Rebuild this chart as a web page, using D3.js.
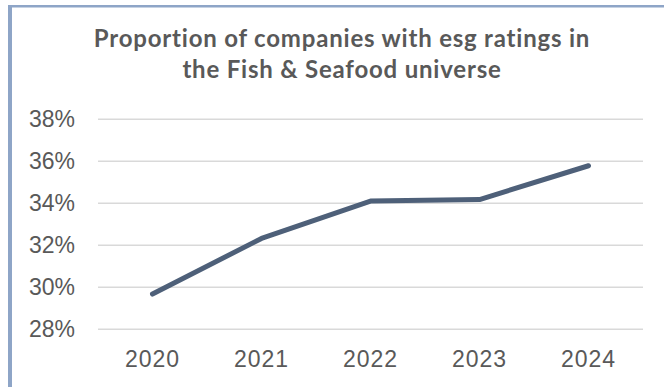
<!DOCTYPE html>
<html>
<head>
<meta charset="utf-8">
<script src="https://cdn.jsdelivr.net/npm/d3@7"></script>
<style>
  body { margin: 0; background: #fff; }
  svg { display: block; font-family: Lato, 'Noto Sans', sans-serif; }
</style>
</head>
<body>
<script>
// data
const years = ['2020', '2021', '2022', '2023', '2024'];
const shares = [29.65, 32.3, 34.08, 34.15, 35.76];
const yTicks = [28, 30, 32, 34, 36, 38];
const titleLines = ['Proportion of companies with esg ratings in', 'the Fish & Seafood universe'];

const svgWid = 664;
const svgHt = 387;
const margin = {top: 118.7, right: 21, bottom: 58.3, left: 98};
const svg = d3.select('body').append('svg').attr('width', svgWid).attr('height', svgHt);

const innerW = svgWid - margin.left - margin.right;
const innerH = svgHt - margin.top - margin.bottom;

const data = years.map((y, i) => ({year: y, share: shares[i]}));

// frame (blue edge on top and left)
svg.append('rect').attr('x', 8).attr('y', 5).attr('width', svgWid - 8).attr('height', 2.5).attr('fill', '#8ea5c7');
svg.append('rect').attr('x', 8).attr('y', 5).attr('width', 4).attr('height', svgHt - 5).attr('fill', '#8ea5c7');

// title
svg.append('text').attr('text-anchor', 'middle').attr('fill', '#595959')
  .attr('font-size', '24px').attr('font-weight', 'bold').attr('letter-spacing', '0.8px')
  .selectAll('tspan').data(titleLines).enter().append('tspan')
  .attr('x', 342).attr('y', (d, i) => 47 + i * 31).text(d => d);

const xScale = d3.scaleBand().domain(years).range([0, innerW]);
const yScale = d3.scaleLinear().domain([28, 38]).range([innerH, 0]);

const g = svg.append('g').attr('transform', `translate(${margin.left},${margin.top})`);

// y axis with grid
const yAxis = d3.axisLeft(yScale).tickValues(yTicks).tickSize(-innerW).tickPadding(23).tickFormat(d => d + '%');
const yAxisG = g.append('g').call(yAxis);
yAxisG.select('.domain').remove();
yAxisG.selectAll('.tick line').attr('stroke', '#d9d9d9').attr('stroke-width', 1.5);
yAxisG.selectAll('.tick text').attr('fill', '#595959').attr('font-size', '23px').attr('font-family', null);

// x axis
const xAxis = d3.axisBottom(xScale).tickSize(0).tickPadding(22);
const xAxisG = g.append('g').attr('transform', `translate(0,${innerH})`).call(xAxis);
xAxisG.select('.domain').remove();
xAxisG.selectAll('.tick text').attr('fill', '#595959').attr('font-size', '23px')
  .attr('letter-spacing', '1px').attr('font-family', null);

// line
const line = d3.line()
  .x(d => xScale(d.year) + xScale.bandwidth() / 2)
  .y(d => yScale(d.share));

g.append('path').attr('d', line(data))
  .attr('fill', 'none')
  .attr('stroke', '#4e6079')
  .attr('stroke-width', 5)
  .attr('stroke-linecap', 'round')
  .attr('stroke-linejoin', 'round');
</script>
</body>
</html>
